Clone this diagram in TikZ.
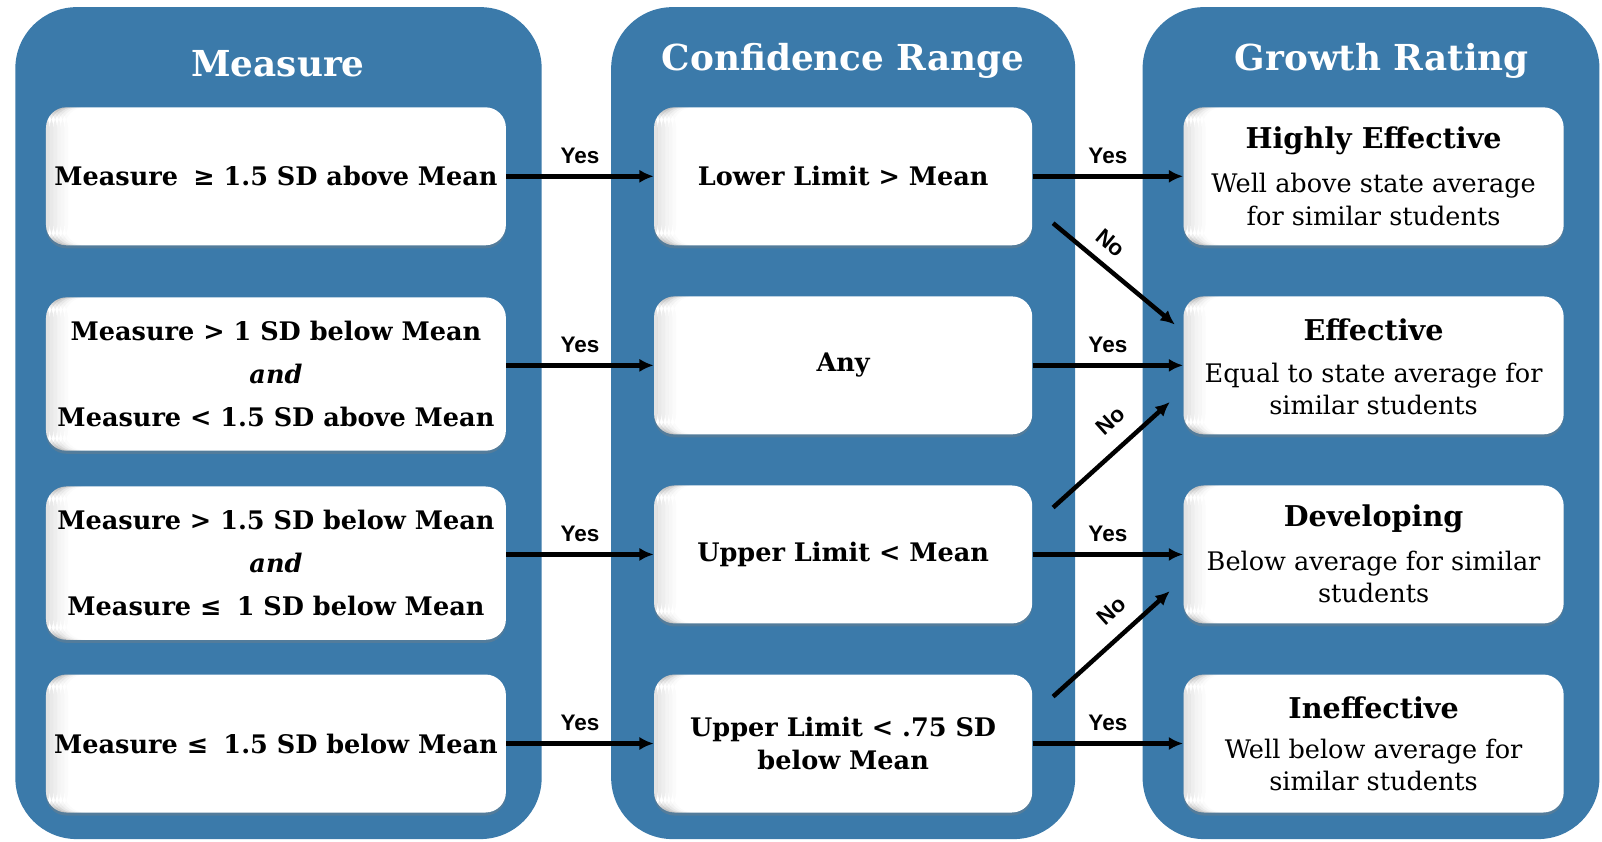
\documentclass[tikz,border=0pt]{standalone}
\usepackage{fontspec}
\setmainfont{DejaVu Serif}
\setsansfont{Liberation Sans}
\usetikzlibrary{arrows.meta,calc,shadows}
\definecolor{panelblue}{RGB}{59,122,170}
\begin{document}
\begin{tikzpicture}[x=0.5pt,y=-0.5pt,
  panel/.style={fill=panelblue, rounded corners=30pt},
  box/.style={fill=white, rounded corners=10pt, inner sep=0pt, align=center,
    drop shadow={opacity=0.35, shadow xshift=0pt, shadow yshift=-1.5pt},
    path picture={\foreach \k/\o in {0/0.11,1/0.085,2/0.065,3/0.045,4/0.03,5/0.015}{
      \fill[black, opacity=\o] ([xshift={\k*1.8pt}]path picture bounding box.south west)
        rectangle ([xshift={\k*1.8pt+1.8pt}]path picture bounding box.north west);}}},
  lbox/.style={box, minimum width=225pt, font=\fontsize{12.5}{21}\selectfont\bfseries},
  mbox/.style={box, minimum width=185pt, minimum height=67.5pt, font=\fontsize{12.5}{16}\selectfont\bfseries},
  rbox/.style={box, minimum width=186pt, minimum height=67.5pt},
  rtitle/.style={font=\fontsize{14}{16}\selectfont\bfseries, inner sep=0pt},
  rbody/.style={font=\fontsize{12.5}{16}\selectfont, align=center, inner sep=0pt},
  ptitle/.style={font=\fontsize{17.5}{20}\selectfont\bfseries, text=white},
  arr/.style={line width=2.2pt, -{Latex[length=7pt,width=6.5pt]}},
  lab/.style={font=\sffamily\bfseries\fontsize{11}{13}\selectfont, inner sep=2pt}
]
\useasboundingbox (0,0) rectangle (1567.5,823);
\fill[white] (0,0) rectangle (1567.5,823);

% panels
\fill[panel] (15,7) rectangle (530,821);
\fill[panel] (598,7) rectangle (1052,821);
\fill[panel] (1118,7) rectangle (1565,821);

\node[ptitle] (t1) at (272,62) {Measure};
\node[ptitle] (t2) at (825,60) {Confidence Range};
\node[ptitle] (t3) at (1352,60) {Growth Rating};

% left boxes
\node[lbox, minimum height=67.5pt] (l1) at (270,172.5) {Measure\hspace{0.25em} ≥ 1.5 SD above Mean};
\node[lbox, minimum height=75pt] (l2) at (270,366) {Measure > 1 SD below Mean\\\textit{and}\\Measure < 1.5 SD above Mean};
\node[lbox, minimum height=75pt] (l3) at (270,551) {Measure > 1.5 SD below Mean\\\textit{and}\\Measure ≤\hspace{0.25em} 1 SD below Mean};
\node[lbox, minimum height=67.5pt] (l4) at (270,727.5) {Measure ≤\hspace{0.25em} 1.5 SD below Mean};

% middle boxes
\node[mbox] (m1) at (825,172.5) {Lower Limit > Mean};
\node[mbox] (m2) at (825,357.5) {Any};
\node[mbox] (m3) at (825,542.5) {Upper Limit < Mean};
\node[mbox] (m4) at (825,727.5) {Upper Limit < .75 SD\\below Mean};

% right boxes
\node[rbox] (r1) at (1344,172.5) {};
\node[rbox] (r2) at (1344,357.5) {};
\node[rbox] (r3) at (1344,542.5) {};
\node[rbox] (r4) at (1344,727.5) {};
\node[rtitle] (r1t) at ($(r1.center)+(0,-35)$) {Highly Effective};
\node[rbody]  (r1b) at ($(r1.center)+(0,23)$) {Well above state average\\for similar students};
\node[rtitle] (r2t) at ($(r2.center)+(0,-35)$) {Effective};
\node[rbody]  (r2b) at ($(r2.center)+(0,23)$) {Equal to state average for\\similar students};
\node[rtitle] (r3t) at ($(r3.center)+(0,-35)$) {Developing};
\node[rbody]  (r3b) at ($(r3.center)+(0,22)$) {Below average for similar\\students};
\node[rtitle] (r4t) at ($(r4.center)+(0,-35)$) {Ineffective};
\node[rbody]  (r4b) at ($(r4.center)+(0,21)$) {Well below average for\\similar students};

% Yes arrows
\foreach \i in {1,2,3,4}{
  \draw[arr] (l\i.east |- m\i.west) -- node[lab, above=3pt] {Yes} (m\i.west);
  \draw[arr] (m\i.east) -- node[lab, above=3pt] {Yes} (r\i.west);
}

% No arrows
\coordinate (n1s) at ($(m1.south east)+(20,-22)$);
\coordinate (n1e) at ($(r2.north west)+(-8,28)$);
\coordinate (n2s) at ($(m3.north east)+(20,22)$);
\coordinate (n2e) at ($(r2.south west)+(-13,-32)$);
\coordinate (n3s) at ($(m4.north east)+(20,22)$);
\coordinate (n3e) at ($(r3.south west)+(-13,-32)$);
\draw[arr] (n1s) -- node[lab, sloped, above=3.5pt, pos=0.36] {No} (n1e);
\draw[arr] (n2s) -- node[lab, sloped, above=5.5pt, pos=0.64] {No} (n2e);
\draw[arr] (n3s) -- node[lab, sloped, above=5pt, pos=0.64] {No} (n3e);
\end{tikzpicture}
\end{document}
